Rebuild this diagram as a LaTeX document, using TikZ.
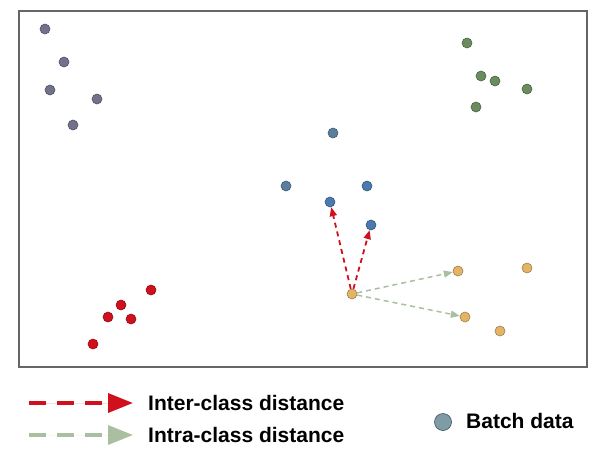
\documentclass[tikz,border=0pt]{standalone}
\usepackage{fontspec}
\setmainfont{Liberation Sans}
\usetikzlibrary{arrows.meta}
\definecolor{cpurp}{HTML}{72728C}
\definecolor{cgreen}{HTML}{6B8C5E}
\definecolor{cblue}{HTML}{4A7AAE}
\definecolor{cblueg}{HTML}{5A7F9E}
\definecolor{corange}{HTML}{E3B466}
\definecolor{cred}{HTML}{D0101C}
\definecolor{cgarrow}{HTML}{A9BFA0}
\definecolor{cbatch}{HTML}{7E9BA6}
\begin{document}
\begin{tikzpicture}[x=1pt,y=-1pt,
  dot/.style={circle,minimum size=10pt,inner sep=0pt,draw=#1!70!black,fill=#1,line width=0.6pt},
  inter/.style={draw=cred,dashed,line width=1.8pt,dash pattern=on 5pt off 4pt,-{Triangle[length=9pt,width=7pt]}},
  intra/.style={draw=cgarrow,dashed,line width=1.5pt,dash pattern=on 5pt off 4pt,-{Triangle[length=9pt,width=7pt]}},
  legarrow/.style={line width=3.5pt,dash pattern=on 17pt off 11pt,-{Triangle[length=25pt,width=19pt]}},
  legtxt/.style={anchor=west,font=\bfseries\fontsize{21}{24}\selectfont,inner sep=0pt}]
\useasboundingbox (0,0) rectangle (602,450);
\draw[draw=black!60,line width=1.2pt] (19,11) rectangle (587,367);
% purple
\node[dot=cpurp] (p1) at (45,29) {};
\node[dot=cpurp] (p2) at (64,62) {};
\node[dot=cpurp] (p3) at (50,90) {};
\node[dot=cpurp] (p4) at (97,99) {};
\node[dot=cpurp] (p5) at (73,125) {};
% green
\node[dot=cgreen] (g1) at (467,43) {};
\node[dot=cgreen] (g2) at (481,76) {};
\node[dot=cgreen] (g3) at (495,81) {};
\node[dot=cgreen] (g4) at (527,89) {};
\node[dot=cgreen] (g5) at (476,107) {};
% blue
\node[dot=cblueg] (b1) at (333,133) {};
\node[dot=cblueg] (b2) at (286,186) {};
\node[dot=cblue] (b3) at (367,186) {};
\node[dot=cblue] (b4) at (330,202) {};
\node[dot=cblue] (b5) at (371,225) {};
% orange
\node[dot=corange] (o0) at (352,294) {};
\node[dot=corange] (o1) at (458,271) {};
\node[dot=corange] (o2) at (527,268) {};
\node[dot=corange] (o3) at (465,317) {};
\node[dot=corange] (o4) at (500,331) {};
% red
\node[dot=cred] (r1) at (151,290) {};
\node[dot=cred] (r2) at (121,305) {};
\node[dot=cred] (r3) at (108,317) {};
\node[dot=cred] (r4) at (131,319) {};
\node[dot=cred] (r5) at (93,344) {};
% arrows
\draw[inter] (o0) -- (b4);
\draw[inter] (o0) -- (b5);
\draw[intra] (o0) -- (o1);
\draw[intra] (o0) -- (o3);
% legend
\coordinate (l1a) at (29,403);
\coordinate (l1b) at (133,403);
\coordinate (l2a) at (29,435);
\coordinate (l2b) at (133,435);
\draw[legarrow,draw=cred,fill=cred] (l1a) -- (l1b);
\draw[legarrow,draw=cgarrow,fill=cgarrow] (l2a) -- (l2b);
\node[legtxt] (t1) at (148,403) {Inter-class distance};
\node[legtxt] (t2) at (148,435) {Intra-class distance};
\node[circle,minimum size=17pt,inner sep=0pt,fill=cbatch,draw=cbatch!60!black,line width=0.7pt] (bd) at (443,422) {};
\node[legtxt] (t3) at (466,421) {Batch data};
\end{tikzpicture}
\end{document}
